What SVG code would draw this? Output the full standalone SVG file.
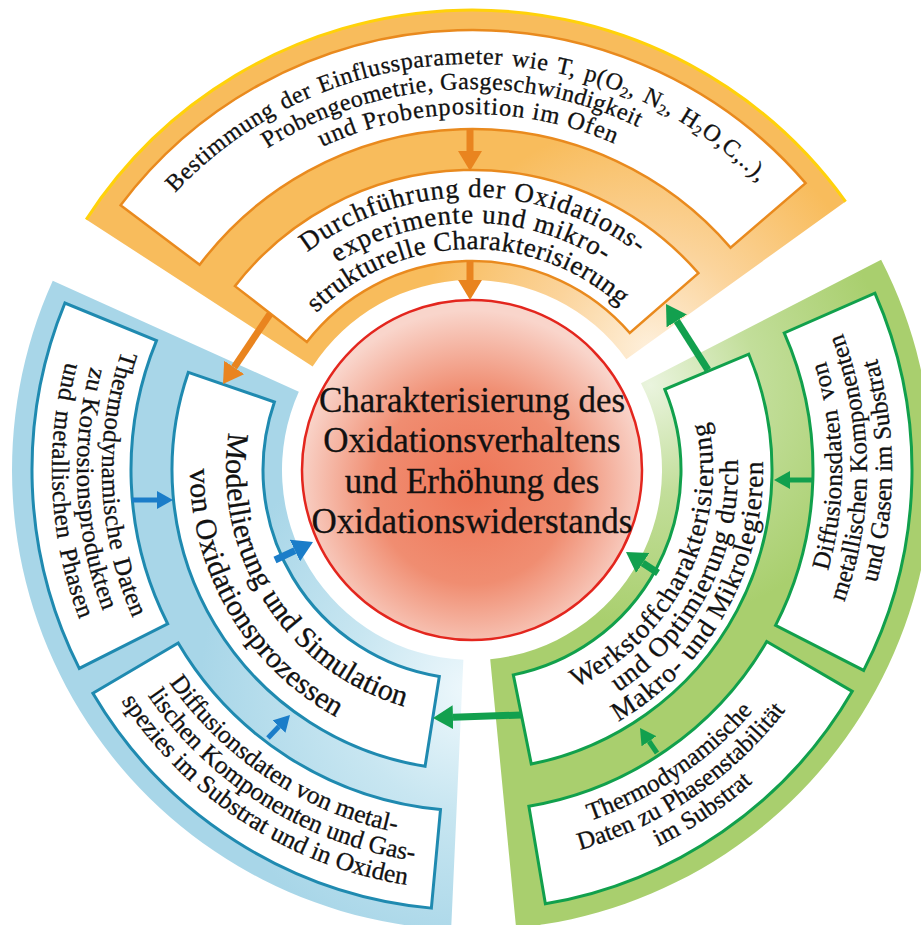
<svg xmlns="http://www.w3.org/2000/svg" width="921" height="925" viewBox="0 0 921 925">
<defs>
<style>
.bx-o{fill:#fff;stroke:#E98A1E;stroke-width:2.5}
.bx-b{fill:#fff;stroke:#1F8AB0;stroke-width:3}
.bx-g{fill:#fff;stroke:#11A04C;stroke-width:3}
.t{font-family:"Liberation Serif","Times New Roman",serif;fill:#111;stroke:#111;stroke-width:0.3}
.a-o{stroke:#E9841F;stroke-width:7;fill:none}
.a-b{stroke:#1B7DC9;stroke-width:7;fill:none}
.a-bs{stroke:#1B7DC9;stroke-width:5;fill:none}
.a-g{stroke:#12A04E;stroke-width:7;fill:none}
.a-gs{stroke:#12A04E;stroke-width:5;fill:none}
</style>
<radialGradient id="g-o" gradientUnits="userSpaceOnUse" cx="650" cy="350" r="230">
<stop offset="0" stop-color="#FEF0DC"/><stop offset="0.45" stop-color="#FBD49C"/><stop offset="1" stop-color="#F8BC5C"/>
</radialGradient>
<radialGradient id="g-b" gradientUnits="userSpaceOnUse" cx="470" cy="690" r="270">
<stop offset="0" stop-color="#EEF8FC"/><stop offset="0.45" stop-color="#C8E6F1"/><stop offset="1" stop-color="#A8D6E8"/>
</radialGradient>
<radialGradient id="g-g" gradientUnits="userSpaceOnUse" cx="650" cy="385" r="240">
<stop offset="0" stop-color="#EAF4DE"/><stop offset="0.45" stop-color="#C2DE9A"/><stop offset="1" stop-color="#A9CF6E"/>
</radialGradient>
<radialGradient id="g-c" cx="50%" cy="55%" r="52%">
<stop offset="0" stop-color="#EE7556"/><stop offset="0.55" stop-color="#F08D71"/><stop offset="1" stop-color="#F9D5CB"/>
</radialGradient>
<marker id="mo" markerUnits="userSpaceOnUse" markerWidth="20" markerHeight="24" viewBox="0 0 20 24" refX="0" refY="12" orient="auto"><path d="M0,0 L20,12 L0,24 z" fill="#E9841F"/></marker>
<marker id="mb" markerUnits="userSpaceOnUse" markerWidth="20" markerHeight="24" viewBox="0 0 20 24" refX="0" refY="12" orient="auto"><path d="M0,0 L20,12 L0,24 z" fill="#1B7DC9"/></marker>
<marker id="mbs" markerUnits="userSpaceOnUse" markerWidth="16" markerHeight="18" viewBox="0 0 16 18" refX="0" refY="9" orient="auto"><path d="M0,0 L16,9 L0,18 z" fill="#1B7DC9"/></marker>
<marker id="mg" markerUnits="userSpaceOnUse" markerWidth="20" markerHeight="24" viewBox="0 0 20 24" refX="0" refY="12" orient="auto"><path d="M0,0 L20,12 L0,24 z" fill="#12A04E"/></marker>
<marker id="mgs" markerUnits="userSpaceOnUse" markerWidth="16" markerHeight="18" viewBox="0 0 16 18" refX="0" refY="9" orient="auto"><path d="M0,0 L16,9 L0,18 z" fill="#12A04E"/></marker>
<path id="t406" d="M72.17,399.50 A406,406 0 0 1 871.83,399.50"/>
<path id="t381" d="M96.79,403.84 A381,381 0 0 1 847.21,403.84"/>
<path id="t356" d="M121.41,408.18 A356,356 0 0 1 822.59,408.18"/>
<path id="t273" d="M203.15,422.59 A273,273 0 0 1 740.85,422.59"/>
<path id="t247" d="M228.75,427.11 A247,247 0 0 1 715.25,427.11"/>
<path id="t221" d="M254.36,431.62 A221,221 0 0 1 689.64,431.62"/>
<path id="b246" d="M229.74,512.72 A246,246 0 0 0 714.26,512.72"/>
<path id="b282" d="M194.28,518.97 A282,282 0 0 0 749.72,518.97"/>
<path id="b241" d="M234.66,511.85 A241,241 0 0 0 709.34,511.85"/>
<path id="b266" d="M210.04,516.19 A266,266 0 0 0 733.96,516.19"/>
<path id="b291" d="M185.42,520.53 A291,291 0 0 0 758.58,520.53"/>
<path id="b370" d="M107.62,534.25 A370,370 0 0 0 836.38,534.25"/>
<path id="b395" d="M83.00,538.59 A395,395 0 0 0 861.00,538.59"/>
<path id="b420" d="M58.38,542.93 A420,420 0 0 0 885.62,542.93"/>
</defs>

<g id="bands">
<path d="M86.21,219.47 A460,460 0 0 1 845.56,201.57 L626.30,359.13 A190,190 0 0 0 312.65,366.52 Z" fill="url(#g-o)"/>
<path d="M86.21,219.47 A460,460 0 0 1 845.56,201.57" fill="none" stroke="#FFD20A" stroke-width="3"/>
<path d="M451.13,929.53 A460,460 0 0 1 52.76,280.71 L298.83,391.81 A190,190 0 0 0 463.38,659.80 Z" fill="url(#g-b)"/>
<path d="M881.13,259.76 A460,460 0 0 1 516.09,927.88 L490.21,659.13 A190,190 0 0 0 640.99,383.16 Z" fill="url(#g-g)"/>
</g>

<g id="node-bestimmung">
<path class="bx-o" d="M120.60,205.20 A440,440 0 0 1 805.58,183.08 L730.52,247.63 A341,341 0 0 0 199.66,264.78 Z"/>
<text class="t" font-size="24" letter-spacing="0.6" word-spacing="2" text-anchor="middle" transform="rotate(-1 472 470)"><textPath href="#t406" startOffset="50%">Bestimmung der Einflussparameter wie T, p(O<tspan font-size="15" dy="4">2</tspan><tspan dy="-4">, N</tspan><tspan font-size="15" dy="4">2</tspan><tspan dy="-4">, H</tspan><tspan font-size="15" dy="4">2</tspan><tspan dy="-4">O,C,..),</tspan></textPath></text>
<text class="t" font-size="24" letter-spacing="0.5" text-anchor="middle" transform="rotate(-3.3 472 470)"><textPath href="#t381" startOffset="50%">Probengeometrie, Gasgeschwindigkeit</textPath></text>
<text class="t" font-size="24.5" letter-spacing="0.9" text-anchor="middle" transform="rotate(-0.6 472 470)"><textPath href="#t356" startOffset="50%">und Probenposition im Ofen</textPath></text>
</g>

<g id="node-durchfuehrung">
<path class="bx-o" d="M234.95,286.13 A300,300 0 0 1 698.41,273.18 L629.73,332.88 A209,209 0 0 0 306.86,341.90 Z"/>
<text class="t" font-size="27" letter-spacing="1" text-anchor="middle" transform="rotate(0.3 472 470)"><textPath href="#t273" startOffset="50%">Durchführung der Oxidations-</textPath></text>
<text class="t" font-size="27" letter-spacing="1" text-anchor="middle" transform="rotate(-0.2 472 470)"><textPath href="#t247" startOffset="50%">experimente und mikro-</textPath></text>
<text class="t" font-size="27" letter-spacing="0.4" text-anchor="middle" transform="rotate(-1.3 472 470)"><textPath href="#t221" startOffset="50%">strukturelle Charakterisierung</textPath></text>
</g>

<g id="node-modellierung">
<path class="bx-b" d="M425.07,766.31 A300,300 0 0 1 188.34,372.33 L274.39,401.96 A209,209 0 0 0 439.31,676.43 Z"/>
<text class="t" font-size="30" text-anchor="middle" transform="rotate(57.4 472 470)"><textPath href="#b246" startOffset="50%">Modellierung und Simulation</textPath></text>
<text class="t" font-size="30" text-anchor="middle" transform="rotate(59.5 472 470)"><textPath href="#b282" startOffset="50%">von Oxidationsprozessen</textPath></text>
</g>

<g id="node-thermo-korrosion">
<path class="bx-b" d="M79.26,668.39 A440,440 0 0 1 64.91,303.04 L156.50,340.60 A341,341 0 0 0 167.63,623.75 Z"/>
<text class="t" font-size="25" letter-spacing="0.3" word-spacing="3" text-anchor="middle" transform="rotate(87.6 472 470)"><textPath href="#b370" startOffset="50%">Thermodynamische Daten</textPath></text>
<text class="t" font-size="25" letter-spacing="0.3" text-anchor="middle" transform="rotate(87.1 472 470)"><textPath href="#b395" startOffset="50%">zu Korrosionsprodukten</textPath></text>
<text class="t" font-size="25" letter-spacing="0.3" word-spacing="4" text-anchor="middle" transform="rotate(87 472 470)"><textPath href="#b420" startOffset="50%">und metallischen Phasen</textPath></text>
</g>

<g id="node-diffusion-oxide">
<path class="bx-b" d="M431.36,908.12 A440,440 0 0 1 92.88,693.32 L178.18,643.07 A341,341 0 0 0 440.50,809.54 Z"/>
<text class="t" font-size="25.5" text-anchor="middle" transform="rotate(33.4 472 470)"><textPath href="#b370" startOffset="50%">Diffusionsdaten von metal-</textPath></text>
<text class="t" font-size="25.5" text-anchor="middle" transform="rotate(31.8 472 470)"><textPath href="#b395" startOffset="50%">lischen Komponenten und Gas-</textPath></text>
<text class="t" font-size="25.5" text-anchor="middle" transform="rotate(32.8 472 470)"><textPath href="#b420" startOffset="50%">spezies im Substrat und in Oxiden</textPath></text>
</g>

<g id="node-werkstoff">
<path class="bx-g" d="M748.76,354.23 A300,300 0 0 1 531.30,764.08 L513.31,674.88 A209,209 0 0 0 664.81,389.34 Z"/>
<text class="t" font-size="27" letter-spacing="1" text-anchor="middle" transform="rotate(-63.6 472 470)"><textPath href="#b241" startOffset="50%">Werkstoffcharakterisierung</textPath></text>
<text class="t" font-size="27" letter-spacing="1" text-anchor="middle" transform="rotate(-62.9 472 470)"><textPath href="#b266" startOffset="50%">und Optimierung durch</textPath></text>
<text class="t" font-size="27" letter-spacing="1" text-anchor="middle" transform="rotate(-61 472 470)"><textPath href="#b291" startOffset="50%">Makro- und Mikrolegieren</textPath></text>
</g>

<g id="node-diffusion-substrat">
<path class="bx-g" d="M874.89,293.14 A440,440 0 0 1 863.68,670.44 L775.55,625.34 A341,341 0 0 0 784.24,332.94 Z"/>
<text class="t" font-size="25" letter-spacing="0.3" word-spacing="4" text-anchor="middle" transform="rotate(-90.65 472 470)"><textPath href="#b370" startOffset="50%">Diffusionsdaten von</textPath></text>
<text class="t" font-size="25" text-anchor="middle" transform="rotate(-90.35 472 470)"><textPath href="#b395" startOffset="50%">metallischen Komponenten</textPath></text>
<text class="t" font-size="25" text-anchor="middle" transform="rotate(-89.9 472 470)"><textPath href="#b420" startOffset="50%">und Gasen im Substrat</textPath></text>
</g>

<g id="node-thermo-phasen">
<path class="bx-g" d="M852.28,691.33 A440,440 0 0 1 545.38,903.84 L528.87,806.23 A341,341 0 0 0 766.72,641.53 Z"/>
<text class="t" font-size="25" text-anchor="middle" transform="rotate(-34 472 470)"><textPath href="#b370" startOffset="50%">Thermodynamische</textPath></text>
<text class="t" font-size="25" text-anchor="middle" transform="rotate(-34.2 472 470)"><textPath href="#b395" startOffset="50%">Daten zu Phasenstabilität</textPath></text>
<text class="t" font-size="25" text-anchor="middle" transform="rotate(-34.15 472 470)"><textPath href="#b420" startOffset="50%">im Substrat</textPath></text>
</g>

<g id="node-center">
<circle cx="472" cy="470" r="170" fill="url(#g-c)" stroke="#E3261E" stroke-width="2.5"/>
<text class="t" font-size="35" text-anchor="middle"><tspan x="472" y="412">Charakterisierung des</tspan><tspan x="472" y="452">Oxidationsverhaltens</tspan><tspan x="472" y="493">und Erhöhung des</tspan><tspan x="472" y="533">Oxidationswiderstands</tspan></text>
</g>

<g id="connectors">
<line class="a-o" x1="470" y1="129" x2="470" y2="151" marker-end="url(#mo)"/>
<line class="a-o" x1="470" y1="261" x2="470" y2="280" marker-end="url(#mo)"/>
<line class="a-o" x1="270" y1="314" x2="234.15" y2="367.39" marker-end="url(#mo)"/>
<line class="a-bs" x1="132" y1="500" x2="157" y2="500" marker-end="url(#mbs)"/>
<line class="a-b" x1="275" y1="560" x2="294.92" y2="550.56" marker-end="url(#mb)"/>
<line class="a-bs" x1="268" y1="738" x2="278.94" y2="726.57" marker-end="url(#mbs)"/>
<line class="a-g" x1="708" y1="370" x2="676.74" y2="320.88" marker-end="url(#mg)"/>
<line class="a-g" x1="658" y1="573" x2="642.72" y2="562.96" marker-end="url(#mg)"/>
<line class="a-gs" x1="813" y1="480" x2="790" y2="480" marker-end="url(#mgs)"/>
<line class="a-gs" x1="657" y1="753" x2="649" y2="741.25" marker-end="url(#mgs)"/>
<line class="a-g" x1="521" y1="715" x2="453" y2="717.3" marker-end="url(#mg)"/>
</g>
</svg>
